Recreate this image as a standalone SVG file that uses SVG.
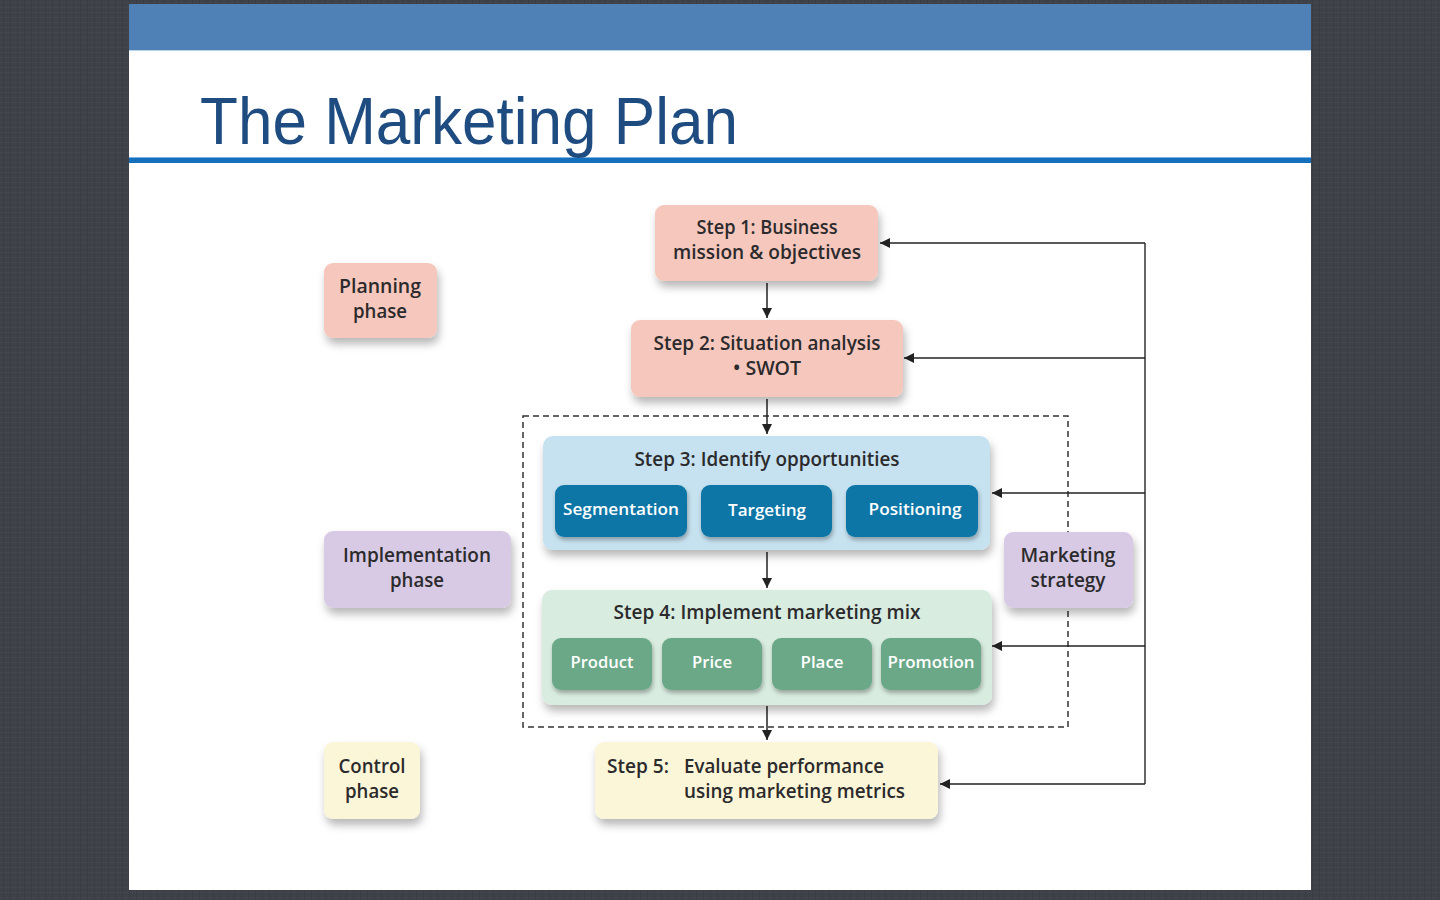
<svg xmlns="http://www.w3.org/2000/svg" width="1440" height="900" viewBox="0 0 1440 900">
<defs>
<filter id="sh" x="-20%" y="-20%" width="140%" height="160%">
<feDropShadow dx="2" dy="6" stdDeviation="4" flood-color="#000" flood-opacity="0.28"/>
</filter>
<filter id="sh2" x="-20%" y="-20%" width="140%" height="160%">
<feDropShadow dx="1" dy="3" stdDeviation="2" flood-color="#000" flood-opacity="0.3"/>
</filter>
<marker id="ah" viewBox="0 0 10 10" refX="10" refY="5" markerWidth="10" markerHeight="10" markerUnits="userSpaceOnUse" orient="auto">
<path d="M0,0 L10,5 L0,10 z" fill="#222"/>
</marker>
<pattern id="tex" width="7" height="5" patternUnits="userSpaceOnUse">
<rect width="7" height="5" fill="#3e4148"/>
<path d="M0,2.5 H7" stroke="#43464d" stroke-width="1"/>
<path d="M3.5,0 V5" stroke="#3a3d43" stroke-width="1"/>
</pattern>
<style>
.t{font-family:"Open Sans","Liberation Sans",sans-serif;font-weight:600;font-size:19px;fill:#2b2a2c;text-anchor:middle}
.w{font-family:"Open Sans","Liberation Sans",sans-serif;font-weight:600;font-size:17px;fill:#ffffff;text-anchor:middle}
.tl{text-anchor:start}
.pink{fill:#f6c7bc}
.lav{fill:#d8cae4}
.cream{fill:#fcf6d8}
.blu{fill:#0b76a7}
.grn{fill:#6aa887}
.ln{stroke:#333;stroke-width:1.5;fill:none}
.ar{stroke:#222;stroke-width:1.5;fill:none;marker-end:url(#ah)}
</style>
</defs>
<rect width="1440" height="900" fill="url(#tex)"/>
<rect x="129" y="4" width="1182" height="886" fill="#ffffff"/>
<rect x="129" y="4" width="1182" height="46" fill="#4f81b6"/>
<rect x="129" y="50" width="1182" height="1" fill="#b9d3ea"/>
<rect x="129" y="157" width="1182" height="1" fill="#7fb4df"/>
<rect x="129" y="158" width="1182" height="5" fill="#1470bd"/>
<text x="200" y="144" font-family="Liberation Sans, Arial, sans-serif" font-size="67" fill="#1f4c80" textLength="538" lengthAdjust="spacingAndGlyphs">The Marketing Plan</text>

<g id="dashed-box">
<rect x="523" y="416" width="545" height="311" fill="none" stroke="#333" stroke-width="1.5" stroke-dasharray="6,4"/>
</g>

<g id="connectors">
<path class="ar" d="M767,283 V318"/>
<path class="ar" d="M767,399 V434"/>
<path class="ar" d="M767,552 V588"/>
<path class="ar" d="M767,706 V740"/>
<path class="ln" d="M1145,243 V784"/>
<path class="ar" d="M1145,243 H880"/>
<path class="ar" d="M1145,358 H904"/>
<path class="ar" d="M1145,493 H992"/>
<path class="ar" d="M1145,646 H992"/>
<path class="ar" d="M1145,784 H940"/>
</g>

<g id="planning-phase">
<rect class="pink" x="324" y="263" width="113" height="75" rx="9" filter="url(#sh)"/>
<text class="t" x="380" y="293" textLength="82" lengthAdjust="spacingAndGlyphs">Planning</text>
<text class="t" x="380" y="318" textLength="54" lengthAdjust="spacingAndGlyphs">phase</text>
</g>

<g id="implementation-phase">
<rect class="lav" x="324" y="531" width="187" height="77" rx="9" filter="url(#sh)"/>
<text class="t" x="417" y="562" textLength="148" lengthAdjust="spacingAndGlyphs">Implementation</text>
<text class="t" x="417" y="587" textLength="54" lengthAdjust="spacingAndGlyphs">phase</text>
</g>

<g id="control-phase">
<rect class="cream" x="324" y="742" width="96" height="77" rx="9" filter="url(#sh)"/>
<text class="t" x="372" y="773" textLength="67" lengthAdjust="spacingAndGlyphs">Control</text>
<text class="t" x="372" y="798" textLength="54" lengthAdjust="spacingAndGlyphs">phase</text>
</g>

<g id="step1">
<rect class="pink" x="655" y="205" width="223" height="76" rx="9" filter="url(#sh)"/>
<text class="t" x="767" y="234" textLength="141" lengthAdjust="spacingAndGlyphs">Step 1: Business</text>
<text class="t" x="767" y="259" textLength="188" lengthAdjust="spacingAndGlyphs">mission &amp; objectives</text>
</g>

<g id="step2">
<rect class="pink" x="631" y="320" width="272" height="77" rx="9" filter="url(#sh)"/>
<text class="t" x="767" y="350" textLength="227" lengthAdjust="spacingAndGlyphs">Step 2: Situation analysis</text>
<text class="t" x="767" y="375" textLength="68" lengthAdjust="spacingAndGlyphs">• SWOT</text>
</g>

<g id="step3">
<rect x="543" y="436" width="447" height="114" rx="10" fill="#c6e1ef" filter="url(#sh)"/>
<text class="t" x="767" y="466" textLength="265" lengthAdjust="spacingAndGlyphs">Step 3: Identify opportunities</text>
</g>
<g id="segmentation">
<rect class="blu" x="555" y="485" width="132" height="52" rx="9" filter="url(#sh2)"/>
<text class="w" x="621" y="515" textLength="116" lengthAdjust="spacingAndGlyphs">Segmentation</text>
</g>
<g id="targeting">
<rect class="blu" x="701" y="485" width="131" height="52" rx="9" filter="url(#sh2)"/>
<text class="w" x="767" y="516" textLength="78" lengthAdjust="spacingAndGlyphs">Targeting</text>
</g>
<g id="positioning">
<rect class="blu" x="846" y="485" width="132" height="52" rx="9" filter="url(#sh2)"/>
<text class="w" x="915" y="515" textLength="93" lengthAdjust="spacingAndGlyphs">Positioning</text>
</g>

<g id="step4">
<rect x="542" y="590" width="450" height="115" rx="10" fill="#d9ece0" filter="url(#sh)"/>
<text class="t" x="767" y="619" textLength="307" lengthAdjust="spacingAndGlyphs">Step 4: Implement marketing mix</text>
</g>
<g id="product">
<rect class="grn" x="552" y="638" width="100" height="52" rx="9" filter="url(#sh2)"/>
<text class="w" x="602" y="668" textLength="63" lengthAdjust="spacingAndGlyphs">Product</text>
</g>
<g id="price">
<rect class="grn" x="662" y="638" width="100" height="52" rx="9" filter="url(#sh2)"/>
<text class="w" x="712" y="668" textLength="40" lengthAdjust="spacingAndGlyphs">Price</text>
</g>
<g id="place">
<rect class="grn" x="772" y="638" width="100" height="52" rx="9" filter="url(#sh2)"/>
<text class="w" x="822" y="668" textLength="43" lengthAdjust="spacingAndGlyphs">Place</text>
</g>
<g id="promotion">
<rect class="grn" x="881" y="638" width="100" height="52" rx="9" filter="url(#sh2)"/>
<text class="w" x="931" y="668" textLength="87" lengthAdjust="spacingAndGlyphs">Promotion</text>
</g>

<g id="step5">
<rect class="cream" x="595" y="742" width="343" height="77" rx="9" filter="url(#sh)"/>
<text class="t tl" x="607" y="773" textLength="62" lengthAdjust="spacingAndGlyphs">Step 5:</text>
<text class="t tl" x="684" y="773" textLength="200" lengthAdjust="spacingAndGlyphs">Evaluate performance</text>
<text class="t tl" x="684" y="798" textLength="221" lengthAdjust="spacingAndGlyphs">using marketing metrics</text>
</g>

<g id="marketing-strategy">
<rect class="lav" x="1004" y="532" width="129" height="76" rx="9" filter="url(#sh)"/>
<text class="t" x="1068" y="562" textLength="95" lengthAdjust="spacingAndGlyphs">Marketing</text>
<text class="t" x="1068" y="587" textLength="75" lengthAdjust="spacingAndGlyphs">strategy</text>
</g>
</svg>
